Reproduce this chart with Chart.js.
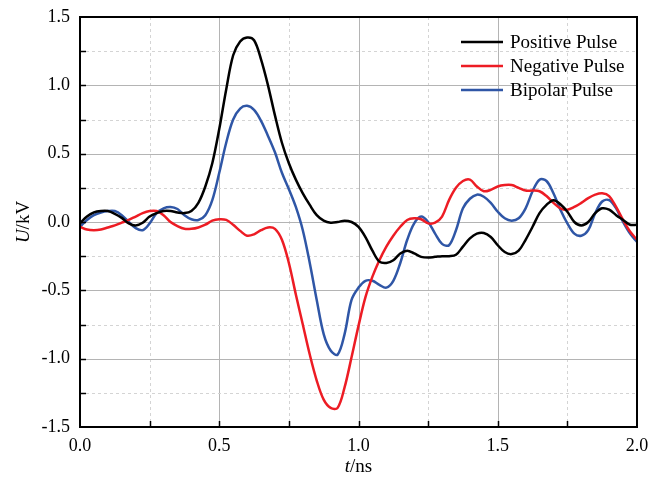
<!DOCTYPE html>
<html>
<head>
<meta charset="utf-8">
<script src="https://cdn.jsdelivr.net/npm/chart.js@4"></script>
<style>
  body { margin: 0; background: #fff; }
</style>
</head>
<body>
<canvas id="myChart" width="665" height="479"></canvas>
<script>
const times = [
    0.000, 0.025, 0.050, 0.075, 0.100, 0.125, 0.150, 0.175, 0.200, 0.225,
    0.250, 0.275, 0.300, 0.325, 0.350, 0.375, 0.400, 0.425, 0.450, 0.475,
    0.500, 0.525, 0.550, 0.575, 0.600, 0.625, 0.650, 0.675, 0.700, 0.725,
    0.750, 0.775, 0.800, 0.825, 0.850, 0.875, 0.900, 0.925, 0.950, 0.975,
    1.000, 1.025, 1.050, 1.075, 1.100, 1.125, 1.150, 1.175, 1.200, 1.225,
    1.250, 1.275, 1.300, 1.325, 1.350, 1.375, 1.400, 1.425, 1.450, 1.475,
    1.500, 1.525, 1.550, 1.575, 1.600, 1.625, 1.650, 1.675, 1.700, 1.725,
    1.750, 1.775, 1.800, 1.825, 1.850, 1.875, 1.900, 1.925, 1.950, 1.975,
    2.000
];

const positivePulse = [
    -0.01, 0.04, 0.07, 0.08, 0.08, 0.06, 0.03, -0.01, -0.025, -0.005,
    0.04, 0.065, 0.08, 0.08, 0.07, 0.065, 0.08, 0.14, 0.26, 0.43,
    0.68, 0.97, 1.22, 1.32, 1.35, 1.33, 1.19, 1.00, 0.78, 0.58,
    0.43, 0.31, 0.21, 0.125, 0.05, 0.01, -0.005, 0.0, 0.01, 0.0,
    -0.035, -0.11, -0.21, -0.29, -0.30, -0.28, -0.23, -0.21, -0.23, -0.255,
    -0.26, -0.255, -0.25, -0.25, -0.24, -0.18, -0.12, -0.085, -0.08, -0.11,
    -0.17, -0.22, -0.235, -0.21, -0.13, -0.035, 0.065, 0.125, 0.16, 0.13,
    0.075, 0.0, -0.025, 0.0, 0.065, 0.10, 0.09, 0.05, 0.015, -0.02,
    -0.02
];

const negativePulse = [
    -0.035, -0.055, -0.06, -0.055, -0.04, -0.025, -0.005, 0.015, 0.04, 0.065,
    0.08, 0.08, 0.05, 0.0, -0.03, -0.05, -0.05, -0.04, -0.02, 0.01,
    0.02, 0.015, -0.02, -0.065, -0.10, -0.09, -0.06, -0.04, -0.05, -0.13,
    -0.30, -0.53, -0.75, -0.97, -1.16, -1.30, -1.36, -1.36, -1.21, -0.99,
    -0.76, -0.55, -0.40, -0.28, -0.18, -0.10, -0.035, 0.015, 0.027, 0.02,
    -0.01, -0.005, 0.04, 0.16, 0.25, 0.30, 0.31, 0.26, 0.225, 0.235,
    0.26, 0.27, 0.27, 0.25, 0.23, 0.23, 0.225, 0.19, 0.14, 0.10,
    0.09, 0.11, 0.14, 0.175, 0.20, 0.21, 0.19, 0.11, 0.015, -0.07,
    -0.13
];

const bipolarPulse = [
    -0.035, 0.015, 0.05, 0.07, 0.08, 0.08, 0.05, 0.0, -0.045, -0.06,
    -0.01, 0.065, 0.10, 0.11, 0.095, 0.05, 0.02, 0.015, 0.05, 0.16,
    0.36, 0.58, 0.75, 0.83, 0.85, 0.82, 0.74, 0.63, 0.51, 0.36,
    0.24, 0.11, -0.06, -0.30, -0.57, -0.82, -0.94, -0.97, -0.82, -0.57,
    -0.48, -0.43, -0.43, -0.46, -0.48, -0.43, -0.30, -0.13, -0.01, 0.04,
    0.0, -0.085, -0.16, -0.17, -0.06, 0.10, 0.17, 0.20, 0.185, 0.14,
    0.075, 0.027, 0.01, 0.027, 0.10, 0.225, 0.31, 0.30, 0.21, 0.09,
    -0.01, -0.085, -0.10, -0.06, 0.065, 0.15, 0.16, 0.10, 0.0, -0.085,
    -0.145
];

const seriesNames = ['Positive Pulse', 'Negative Pulse', 'Bipolar Pulse'];
const seriesColors = ['#000000', '#ed1c24', '#2f56a6'];
const seriesValues = [positivePulse, negativePulse, bipolarPulse];

const serif = '"Liberation Serif", "DejaVu Serif", serif';

function toPoints(values) {
    return values.map((v, i) => ({ x: times[i], y: v }));
}

// grid, frame, inward ticks, legend and axis titles
const decorations = {
    id: 'decorations',
    beforeDatasetsDraw(chart) {
        const { ctx, chartArea: a, scales: { x, y } } = chart;
        ctx.save();
        ctx.lineWidth = 1;
        for (let v = 0.25; v < 2; v += 0.25) {
            const major = Math.abs(v % 0.5) < 1e-9;
            ctx.setLineDash(major ? [] : [3, 3]);
            ctx.strokeStyle = major ? '#b4b4b4' : '#d4d4d4';
            const px = Math.round(x.getPixelForValue(v)) + 0.5;
            ctx.beginPath();
            ctx.moveTo(px, a.top);
            ctx.lineTo(px, a.bottom);
            ctx.stroke();
        }
        for (let v = -1.25; v < 1.5; v += 0.25) {
            const major = Math.abs(v % 0.5) < 1e-9;
            ctx.setLineDash(major ? [] : [3, 3]);
            ctx.strokeStyle = major ? '#b4b4b4' : '#d4d4d4';
            const py = Math.round(y.getPixelForValue(v)) + 0.5;
            ctx.beginPath();
            ctx.moveTo(a.left, py);
            ctx.lineTo(a.right, py);
            ctx.stroke();
        }
        ctx.restore();
    },
    afterDatasetsDraw(chart) {
        const { ctx, chartArea: a, scales: { x, y } } = chart;
        ctx.save();
        ctx.setLineDash([]);
        ctx.strokeStyle = '#000';
        ctx.lineWidth = 2;
        ctx.strokeRect(a.left, a.top, a.right - a.left, a.bottom - a.top);

        ctx.lineWidth = 1.5;
        for (let v = 0.25; v < 2; v += 0.25) {
            const px = Math.round(x.getPixelForValue(v)) + 0.5;
            ctx.beginPath();
            ctx.moveTo(px, a.bottom);
            ctx.lineTo(px, a.bottom - 6);
            ctx.stroke();
        }
        for (let v = -1.25; v < 1.5; v += 0.25) {
            const py = Math.round(y.getPixelForValue(v)) + 0.5;
            ctx.beginPath();
            ctx.moveTo(a.left, py);
            ctx.lineTo(a.left + 6, py);
            ctx.stroke();
        }

        // legend
        ctx.font = '19px ' + serif;
        ctx.textBaseline = 'middle';
        ctx.textAlign = 'left';
        chart.data.datasets.forEach((ds, i) => {
            const ly = a.top + 25 + i * 24;
            ctx.strokeStyle = ds.borderColor;
            ctx.lineWidth = 2.5;
            ctx.beginPath();
            ctx.moveTo(a.right - 176, ly);
            ctx.lineTo(a.right - 134, ly);
            ctx.stroke();
            ctx.fillStyle = '#000';
            ctx.fillText(ds.label, a.right - 127, ly + 1);
        });

        // axis titles with italic symbols
        const italic = 'italic 19px ' + serif;
        const normal = '19px ' + serif;
        ctx.fillStyle = '#000';
        ctx.textBaseline = 'alphabetic';
        ctx.font = italic;
        const tw = ctx.measureText('t').width;
        ctx.font = normal;
        const nsw = ctx.measureText('/ns').width;
        let sx = (a.left + a.right) / 2 - (tw + nsw) / 2;
        ctx.font = italic;
        ctx.fillText('t', sx, 472);
        ctx.font = normal;
        ctx.fillText('/ns', sx + tw, 472);

        ctx.translate(29, (a.top + a.bottom) / 2);
        ctx.rotate(-Math.PI / 2);
        ctx.font = italic;
        const uw = ctx.measureText('U').width;
        ctx.font = normal;
        const kvw = ctx.measureText('/kV').width;
        sx = -(uw + kvw) / 2;
        ctx.font = italic;
        ctx.fillText('U', sx, 0);
        ctx.font = normal;
        ctx.fillText('/kV', sx + uw, 0);
        ctx.restore();
    }
};

const ctx = document.getElementById('myChart').getContext('2d');
new Chart(ctx, {
    type: 'line',
    data: {
        datasets: seriesNames.map((name, i) => ({
            label: name,
            data: toPoints(seriesValues[i]),
            borderColor: seriesColors[i],
            borderWidth: 2.5,
            pointRadius: 0,
            tension: 0.35,
            fill: false
        }))
    },
    options: {
        responsive: false,
        animation: false,
        layout: { padding: { top: 17, right: 28, left: 0, bottom: 0 } },
        plugins: {
            legend: { display: false },
            tooltip: { enabled: false }
        },
        scales: {
            x: {
                type: 'linear',
                min: 0,
                max: 2,
                grid: { display: false },
                border: { display: false },
                ticks: {
                    stepSize: 0.5,
                    padding: 0,
                    color: '#000',
                    font: { family: serif, size: 18 },
                    callback: v => v.toFixed(1)
                },
                afterFit(scale) { scale.height = 52; }
            },
            y: {
                min: -1.5,
                max: 1.5,
                grid: { display: false },
                border: { display: false },
                ticks: {
                    stepSize: 0.5,
                    padding: 2,
                    color: '#000',
                    font: { family: serif, size: 18 },
                    callback: v => v.toFixed(1)
                },
                afterFit(scale) { scale.width = 80; }
            }
        }
    },
    plugins: [decorations]
});
</script>
</body>
</html>
